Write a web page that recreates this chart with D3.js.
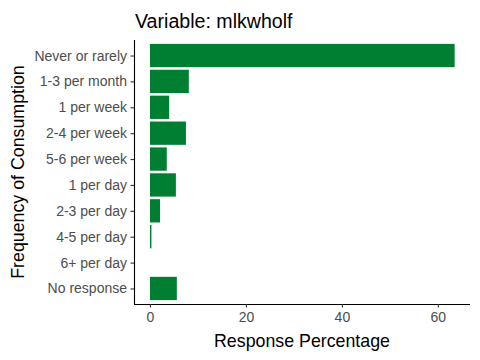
<!DOCTYPE html>
<html><head><meta charset="utf-8">
<script src="https://cdn.jsdelivr.net/npm/d3@7"></script>
<style>body{margin:0;background:#fff}svg{display:block;font-family:Arial,"Liberation Sans",sans-serif}</style>
</head><body>
<svg id="c" width="480" height="360"></svg>
<script>
const categories = ["Never or rarely","1-3 per month","1 per week","2-4 per week","5-6 per week","1 per day","2-3 per day","4-5 per day","6+ per day","No response"];
const values = [63.5, 8.1, 4.0, 7.5, 3.5, 5.4, 2.1, 0.3, 0, 5.6];
const xTicks = [0, 20, 40, 60];
const title = "Variable: mlkwholf";

const svg = d3.select("#c");
const L = 134, R = 470, T = 40, B = 304;
const x = d3.scaleLinear().domain([-3.33, 66.7]).range([L, R]);
const step = (B - T) / (categories.length - 1 + 1.2);
const y = d3.scaleLinear().domain([0, categories.length - 1]).range([T + 0.6 * step, B - 0.6 * step]);
const bh = step * 0.9;

svg.selectAll("rect.bar").data(values).enter().append("rect")
  .attr("class","bar")
  .attr("x", x(0))
  .attr("y", (d,i) => y(i) - bh/2)
  .attr("width", d => x(d) - x(0))
  .attr("height", bh)
  .attr("fill", "#007F33");

const ax = svg.append("g").attr("transform", `translate(0,${B})`)
  .call(d3.axisBottom(x).tickValues(xTicks).tickSize(3.5).tickPadding(5));
const ay = svg.append("g").attr("transform", `translate(${L},0)`)
  .call(d3.axisLeft(y).tickValues(d3.range(categories.length)).tickFormat(i => categories[i]).tickSize(3.5).tickPadding(3.5));
[ax, ay].forEach(g => {
  g.select(".domain").attr("stroke","#000").attr("stroke-width",1.1);
  g.selectAll(".tick line").attr("stroke","#333").attr("stroke-width",1.1);
  g.selectAll("text").attr("fill","#4D4D4D").style("font-size","14px").style("font-family","Arial, 'Liberation Sans', sans-serif");
});
ax.select(".domain").attr("d", `M${L},0.5H${R}`);
ay.select(".domain").attr("d", `M0.5,${T}V${B}`);

svg.append("text").attr("x", 135).attr("y", 28).text(title)
  .style("font-size","19.6px").attr("fill","#000");
svg.append("text").attr("x", (L+R)/2 - 0).attr("y", 347).attr("text-anchor","middle")
  .text("Response Percentage").style("font-size","17.8px").attr("fill","#000");
svg.append("text").attr("transform", `translate(24,${(T+B)/2}) rotate(-90)`).attr("text-anchor","middle")
  .text("Frequency of Consumption").style("font-size","17.8px").attr("fill","#000");
</script>
</body></html>
